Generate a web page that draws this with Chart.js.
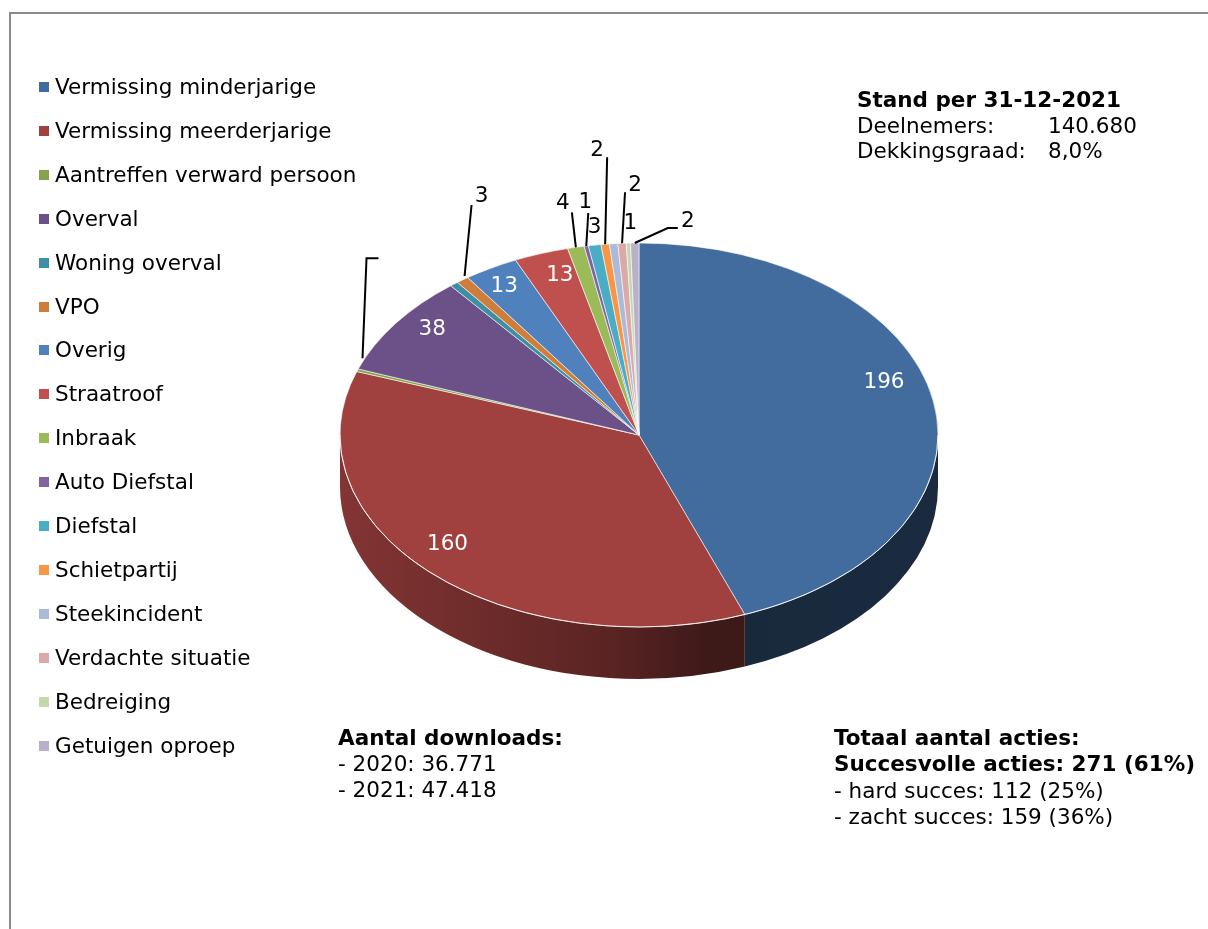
<!DOCTYPE html>
<html>
<head>
<meta charset="utf-8">
<script src="https://cdn.jsdelivr.net/npm/chart.js@4.4.1/dist/chart.umd.min.js"></script>
<style>
  body { margin: 0; background: #fff; font-family: "DejaVu Sans", Verdana, sans-serif; color: #000; }
  #wrap { position: relative; width: 1208px; height: 929px; overflow: hidden; }
  #frame { position: absolute; left: 9px; top: 12px; width: 1300px; height: 1000px; border: 2px solid #8a8a8a; }
  #chart { position: absolute; left: 0; top: 0; }
  .legend-item { position: absolute; left: 39px; height: 24px; font-size: 21.5px; line-height: 24px; white-space: nowrap; }
  .legend-item i { position: absolute; left: 0; top: 7px; width: 10px; height: 10px; }
  .legend-item span { position: absolute; left: 16px; top: 0; }
  .block { position: absolute; font-size: 21.5px; white-space: nowrap; }
  .block b { font-weight: bold; }
  .tab { display: inline-block; width: 191px; }
</style>
</head>
<body>
<div id="wrap">
  <div id="frame"></div>
  <canvas id="chart" width="1208" height="929"></canvas>
  <div id="legend"></div>
  <div class="block" style="left:857px; top:87px; line-height:25.5px;">
    <b>Stand per 31-12-2021</b><br>
    <span class="tab">Deelnemers:</span>140.680<br>
    <span class="tab">Dekkingsgraad:</span>8,0%
  </div>
  <div class="block" style="left:338px; top:725px; line-height:26px;">
    <b>Aantal downloads:</b><br>
    - 2020: 36.771<br>
    - 2021: 47.418
  </div>
  <div class="block" style="left:834px; top:725px; line-height:26.3px;">
    <b>Totaal aantal acties:</b><br>
    <b>Succesvolle acties: 271 (61%)</b><br>
    - hard succes: 112 (25%)<br>
    - zacht succes: 159 (36%)
  </div>
</div>
<script>
const categories = [
    'Vermissing minderjarige', 'Vermissing meerderjarige', 'Aantreffen verward persoon', 'Overval',
    'Woning overval', 'VPO', 'Overig', 'Straatroof', 'Inbraak', 'Auto Diefstal', 'Diefstal',
    'Schietpartij', 'Steekincident', 'Verdachte situatie', 'Bedreiging', 'Getuigen oproep'
];
const acties = [196, 160, 1, 38, 2, 3, 13, 13, 4, 1, 3, 2, 2, 2, 1, 2];
const colors = [
    '#426b9e', '#a0413f', '#87a24c', '#6b5187', '#3d8fa3', '#cf7d3a',
    '#4f81bd', '#c0504d', '#9bbb59', '#8064a2', '#4bacc6', '#f79646',
    '#aabad7', '#d9aaa9', '#c5d7ab', '#bab0c9'
];

// how the value labels are placed (inside the slice or outside with a leader line)
const labelStyle = {
    0: { inside: true, dx: -5, dy: -23 },
    1: { inside: true, dx: -14, dy: -7 },
    2: { line: [[5, -12], [9, -112], [21, -112]], noText: true },
    3: { inside: true, dx: 0, dy: -11 },
    5: { line: [[2, -4], [9, -75]], lab: [19, -84] },
    6: { inside: true, dx: -9, dy: -7 },
    7: { inside: true, dx: 4, dy: -5 },
    8: { line: [[0, 0], [-4, -35]], lab: [-13, -44] },
    9: { line: [[0, 0], [2, -33]], lab: [-1, -44] },
    10: { lab: [0, -18] },
    11: { line: [[0, 0], [2, -87]], lab: [-8, -94] },
    13: { line: [[0, 0], [3, -51]], lab: [13, -58] },
    14: { lab: [2, -20] },
    15: { line: [[0, 0], [33, -15], [43, -15]], lab: [53, -22] }
};

const TILT = 192 / 299;
const DEPTH = 52;

function shade(hex, f) {
    const n = parseInt(hex.slice(1), 16);
    const r = Math.round(((n >> 16) & 255) * f);
    const g = Math.round(((n >> 8) & 255) * f);
    const b = Math.round((n & 255) * f);
    return `rgb(${r},${g},${b})`;
}

// legend
const legend = document.getElementById('legend');
categories.forEach(function(name, i) {
    const row = document.createElement('div');
    row.className = 'legend-item';
    row.style.top = (75 + i * 43.9) + 'px';
    row.innerHTML = `<i style="background:${colors[i]}"></i><span>${name}</span>`;
    legend.appendChild(row);
});

const pie3d = {
    id: 'pie3d',
    beforeDatasetsDraw(chart) {
        const ctx = chart.ctx;
        const arcs = chart.getDatasetMeta(0).data;
        const cx = arcs[0].x, cy = arcs[0].y, r = arcs[0].outerRadius;
        const ry = r * TILT;
        // side walls of the front half
        arcs.forEach(function(arc, i) {
            const s = Math.max(arc.startAngle, 0);
            const e = Math.min(arc.endAngle, Math.PI);
            if (e <= s) return;
            const g = ctx.createLinearGradient(cx - r, 0, cx + r, 0);
            [[0, 0.82], [0.45, 0.56], [0.62, 0.38], [1, 0.4]].forEach(function(st) {
                g.addColorStop(st[0], shade(colors[i], st[1]));
            });
            ctx.beginPath();
            ctx.ellipse(cx, cy, r, ry, 0, s, e);
            ctx.ellipse(cx, cy + DEPTH, r, ry, 0, e, s, true);
            ctx.closePath();
            ctx.fillStyle = g;
            ctx.fill();
        });
        // squash the flat pie into the top face
        ctx.save();
        ctx.translate(cx, cy);
        ctx.scale(1, TILT);
        ctx.translate(-cx, -cy);
    },
    afterDatasetsDraw(chart) {
        const ctx = chart.ctx;
        ctx.restore();
        const arcs = chart.getDatasetMeta(0).data;
        const cx = arcs[0].x, cy = arcs[0].y, r = arcs[0].outerRadius;
        const ry = r * TILT;

        // light rim between top face and side
        ctx.beginPath();
        ctx.ellipse(cx, cy, r, ry, 0, 0, Math.PI);
        ctx.strokeStyle = 'rgba(255,255,255,0.75)';
        ctx.lineWidth = 1;
        ctx.stroke();

        ctx.font = '21.5px "DejaVu Sans"';
        ctx.textAlign = 'center';
        ctx.textBaseline = 'middle';
        arcs.forEach(function(arc, i) {
            const st = labelStyle[i];
            if (!st) return;
            const mid = (arc.startAngle + arc.endAngle) / 2;
            const text = String(acties[i]);
            if (st.inside) {
                const x = cx + 0.85 * r * Math.cos(mid) + st.dx;
                const y = cy + 0.85 * ry * Math.sin(mid) + st.dy;
                ctx.fillStyle = '#fff';
                ctx.fillText(text, x, y);
                return;
            }
            const ax = cx + r * Math.cos(mid);
            const ay = cy + ry * Math.sin(mid);
            if (st.line) {
                ctx.beginPath();
                st.line.forEach(function(p, k) {
                    if (k === 0) ctx.moveTo(ax + p[0], ay + p[1]);
                    else ctx.lineTo(ax + p[0], ay + p[1]);
                });
                ctx.strokeStyle = '#000';
                ctx.lineWidth = 2;
                ctx.stroke();
            }
            if (!st.noText) {
                ctx.fillStyle = '#000';
                ctx.fillText(text, ax + st.lab[0], ay + st.lab[1]);
            }
        });
    }
};

new Chart(document.getElementById('chart'), {
    type: 'pie',
    data: {
        labels: categories,
        datasets: [{
            data: acties,
            backgroundColor: colors,
            borderColor: 'rgba(255,255,255,0.7)',
            borderWidth: 1,
            radius: 299
        }]
    },
    options: {
        responsive: false,
        animation: false,
        events: [],
        layout: { padding: { left: 340, right: 270, top: 136, bottom: 195 } },
        plugins: {
            legend: { display: false },
            tooltip: { enabled: false }
        }
    },
    plugins: [pie3d]
});
</script>
</body>
</html>
